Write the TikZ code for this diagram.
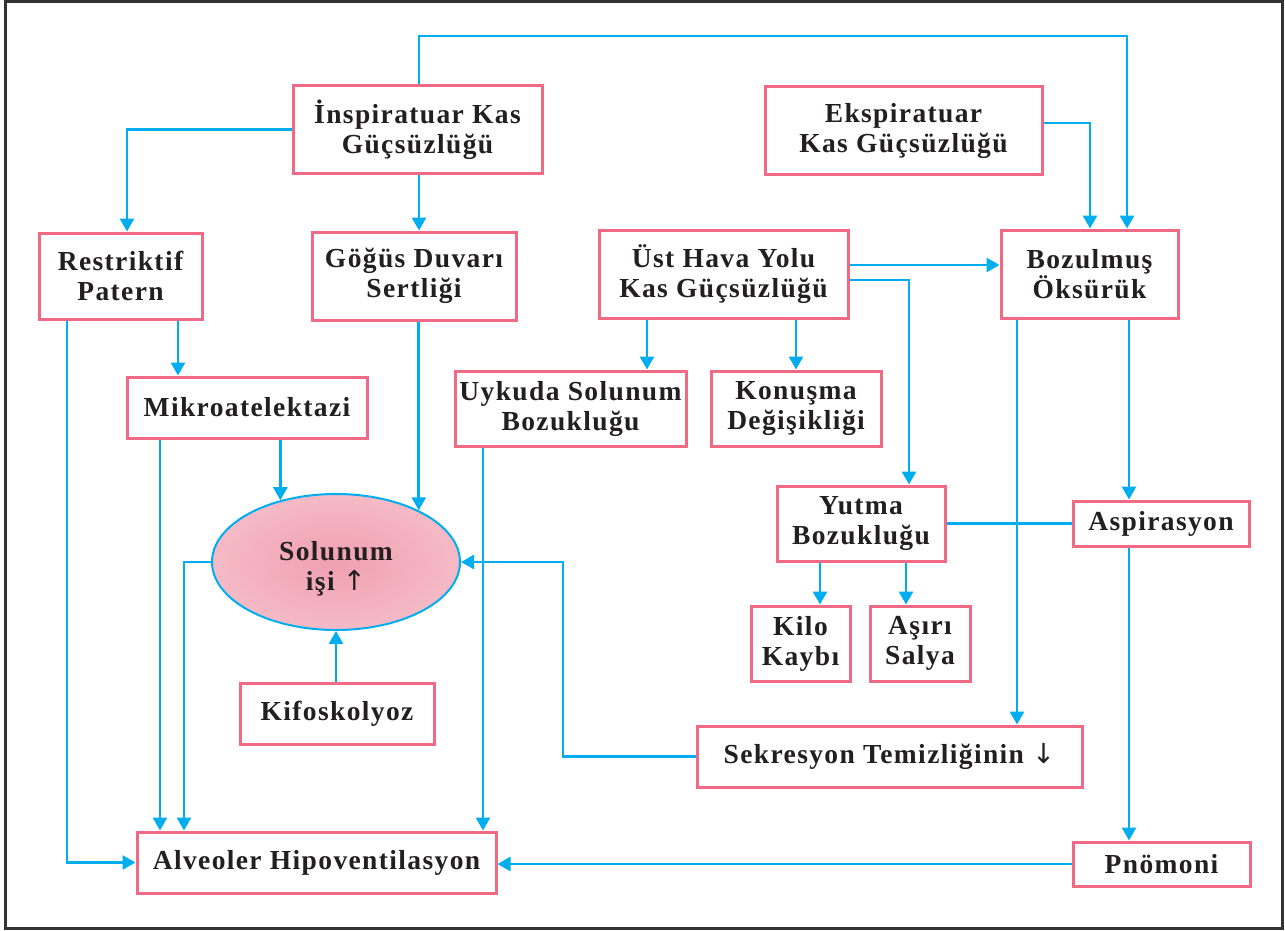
\documentclass[tikz,border=0pt]{standalone}
\usepackage{fontspec}
\setmainfont{Liberation Serif}[LetterSpace=5]
\newfontfamily\arrowfont{DejaVu Sans}
\usetikzlibrary{arrows.meta,shapes.geometric}
\definecolor{pinkc}{RGB}{240,106,134}
\definecolor{cyanc}{RGB}{0,174,239}
\definecolor{txtc}{RGB}{35,31,32}
\definecolor{framec}{RGB}{51,51,51}
\definecolor{ellin}{RGB}{240,160,176}
\definecolor{ellout}{RGB}{245,186,198}
\begin{document}
\begin{tikzpicture}[x=1pt,y=1pt,
 box/.style={draw=pinkc,line width=3pt,fill=white,inner sep=0pt,text=txtc,align=center,font=\fontsize{27.5}{30}\selectfont\bfseries},
 arr/.style={draw=cyanc,line width=2.6pt,-{Triangle[length=13pt,width=14pt]}},
 ln/.style={draw=cyanc,line width=2.6pt}]
\useasboundingbox (0,0) rectangle (1285,-931);
\draw[framec,line width=3pt] (5,-2) rectangle (1282,-928);

% nodes
\node[box,minimum width=249pt,minimum height=87pt] (insp) at (417.5,-129.5) {İnspiratuar Kas\\Güçsüzlüğü};
\node[box,minimum width=277pt,minimum height=87pt] (eksp) at (903.5,-130.5) {Ekspiratuar\\Kas Güçsüzlüğü};
\node[box,minimum width=163pt,minimum height=86pt] (restr) at (120.5,-276) {Restriktif\\Patern};
\node[box,minimum width=204pt,minimum height=88pt] (gogus) at (414,-276) {Göğüs Duvarı\\Sertliği};
\node[box,minimum width=249pt,minimum height=88pt] (ust) at (723.5,-274) {Üst Hava Yolu\\Kas Güçsüzlüğü};
\node[box,minimum width=177pt,minimum height=88pt] (boz) at (1089.5,-274) {Bozulmuş\\Öksürük};
\node[box,minimum width=240pt,minimum height=61pt] (mikro) at (247,-407.5) {Mikroatelektazi};
\node[box,minimum width=231pt,minimum height=75pt] (uyku) at (570.5,-408.5) {Uykuda Solunum\\Bozukluğu};
\node[box,minimum width=170pt,minimum height=75pt] (konus) at (796,-408.5) {Konuşma\\Değişikliği};
\node[box,minimum width=168pt,minimum height=75pt] (yutma) at (861,-523.5) {Yutma\\Bozukluğu};
\node[box,minimum width=176pt,minimum height=45pt] (aspir) at (1161,-523.5) {Aspirasyon};
\node[box,minimum width=99pt,minimum height=75pt] (kilo) at (800.5,-643.5) {Kilo\\Kaybı};
\node[box,minimum width=100pt,minimum height=75pt] (salya) at (920,-643.5) {Aşırı\\Salya};
\node[box,minimum width=194pt,minimum height=61pt] (kifo) at (337,-713.5) {Kifoskolyoz};
\node[box,minimum width=385pt,minimum height=61pt] (sekr) at (889.5,-756.5) {Sekresyon Temizliğinin {\arrowfont\mdseries ↓}};
\node[box,minimum width=359pt,minimum height=61pt] (alv) at (316.5,-862.5) {Alveoler Hipoventilasyon};
\node[box,minimum width=177pt,minimum height=44pt] (pnom) at (1161.5,-864) {Pnömoni};
\node[ellipse,draw=cyanc,line width=2pt,inner sep=0pt,minimum width=248pt,minimum height=136pt,
  inner color=ellin,outer color=ellout,text=txtc,
  font=\fontsize{27.5}{30}\selectfont\bfseries] (ell) at (336,-562)
  {\raisebox{-14pt}[30pt][30pt]{\begin{tabular}{@{}c@{}}Solunum\\işi {\arrowfont\mdseries ↑}\end{tabular}}};

% lane coordinates
\coordinate (t1) at (419,-36);
\coordinate (t2) at (1127,-36);
\coordinate (x127) at (127,0);
\coordinate (e1) at (1090,-123);
\coordinate (y265) at (0,-265);
\coordinate (u1) at (909,-280);
\coordinate (x647) at (647,0);
\coordinate (x178) at (178,0);
\coordinate (x67) at (67,0);
\coordinate (x160) at (160,0);
\coordinate (x184) at (184,0);
\coordinate (x483) at (483,0);
\coordinate (s1) at (563,-562);
\coordinate (x1017) at (1017,0);
\coordinate (x1129) at (1129,0);
\coordinate (x820) at (820,0);
\coordinate (x906) at (906,0);

% connectors
\draw[arr] (insp.north -| t1) -- (t1) -- (t2) -- (boz.north -| t2);
\draw[arr] (insp.west) -| (restr.north -| x127);
\draw[arr] (insp.south -| t1) -- (gogus.north -| t1);
\draw[arr] (eksp.east |- e1) -| (boz.north -| e1);
\draw[arr] (ust.east |- y265) -- (boz.west |- y265);
\draw[arr] (ust.east |- u1) -| (yutma.north -| u1);
\draw[arr] (ust.south -| x647) -- (uyku.north -| x647);
\draw[arr] (ust.south -| konus.north) -- (konus.north);
\draw[arr] (restr.south -| x178) -- (mikro.north -| x178);
\draw[arr] (restr.south -| x67) |- (alv.west);
\draw[arr] (mikro.south -| x160) -- (alv.north -| x160);
\draw[arr] (mikro.south -| ell.132) -- (ell.132);
\draw[arr] (gogus.south -| ell.32.5) -- (ell.32.5);
\draw[arr] (ell.west) -| (alv.north -| x184);
\draw[arr] (uyku.south -| x483) -- (alv.north -| x483);
\draw[arr] (sekr.west) -| (s1) -- (ell.east);
\draw[arr] (ell.south |- kifo.north) -- (ell.south);
\draw[arr] (boz.south -| x1017) -- (sekr.north -| x1017);
\draw[arr] (boz.south -| x1129) -- (aspir.north -| x1129);
\draw[ln] (aspir.west) -- (yutma.east);
\draw[arr] (aspir.south -| x1129) -- (pnom.north -| x1129);
\draw[arr] (pnom.west) -- (alv.east |- pnom.west);
\draw[arr] (yutma.south -| x820) -- (kilo.north -| x820);
\draw[arr] (yutma.south -| x906) -- (salya.north -| x906);
\end{tikzpicture}
\end{document}
